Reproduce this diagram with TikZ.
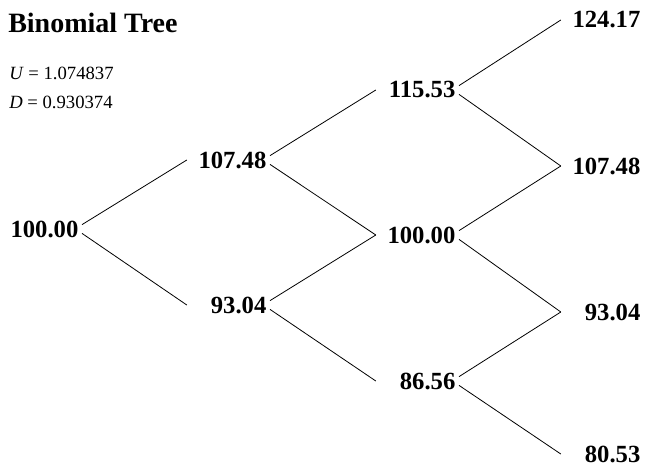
\documentclass[tikz,border=0pt]{standalone}
\usepackage{fontspec}
\setmainfont{Liberation Serif}

\begin{document}
\begin{tikzpicture}[
  x=0.75pt, y=-0.75pt,
  every node/.style={inner sep=0pt},
  valnode/.style={font=\bfseries\fontsize{18.5}{21}\selectfont, text width=57pt,
    align=right, inner xsep=2.5pt, inner ysep=2pt, anchor=east},
  titlenode/.style={font=\bfseries\fontsize{21}{24}\selectfont, anchor=west},
  parnode/.style={font=\fontsize{14}{16}\selectfont, anchor=west},
  branch/.style={draw=black, line width=0.6pt},
]
\useasboundingbox (0,0) rectangle (645,467);

% ---- Title and the up/down factors ----
\node[titlenode] (title) at (8,23) {Binomial Tree};
\node[parnode] (ufac) at (9,73) {\textit{U} = 1.074837};
\node[parnode] (dfac) at (9,102) {\textit{D} = 0.930374};

% ---- Price nodes: name/x/y/value ----
\foreach \n/\x/\y/\v in {n00/82/229/100.00,
    n10/270/160/107.48, n11/270/305/93.04,
    n20/459/90/115.53, n21/459/235/100.00, n22/459/381/86.56,
    n30/644/20/124.17, n31/644/166/107.48, n32/644/312/93.04, n33/644/454/80.53}
  \node[valnode] (\n) at (\x,\y) {\v};

% ---- Branches: up moves, then down moves ----
\foreach \a/\b in {n00/n10, n10/n20, n11/n21, n20/n30, n21/n31, n22/n32}
  \draw[branch] (\a.6) -- (\b.west);
\foreach \a/\b in {n00/n11, n10/n21, n11/n22, n20/n31, n21/n32, n22/n33}
  \draw[branch] (\a.-6) -- (\b.west);

\end{tikzpicture}
\end{document}
